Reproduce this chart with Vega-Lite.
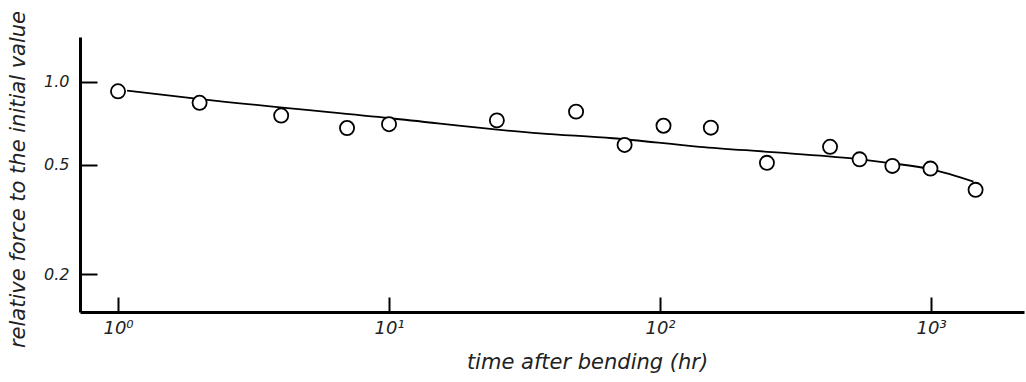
{
  "$schema": "https://vega.github.io/schema/vega-lite/v6.json",
  "width": 944,
  "height": 275,
  "autosize": {"type": "none"},
  "padding": {"left": 80, "top": 37, "right": 2, "bottom": 70},
  "background": "white",
  "config": {
    "view": {"stroke": null},
    "font": "DejaVu Sans",
    "axis": {
      "domainColor": "black",
      "domainWidth": 3,
      "tickColor": "black",
      "tickWidth": 2,
      "grid": false,
      "labelFont": "DejaVu Sans",
      "labelFontStyle": "italic",
      "labelFontWeight": 200,
      "labelColor": "#222",
      "labelFontSize": 16,
      "titleFont": "DejaVu Sans",
      "titleFontStyle": "italic",
      "titleFontWeight": 200,
      "titleColor": "#222",
      "titleFontSize": 21
    }
  },
  "datasets": {
    "points": [
      {"t": 1, "v": 0.925},
      {"t": 2, "v": 0.84},
      {"t": 4, "v": 0.755},
      {"t": 7, "v": 0.68},
      {"t": 10, "v": 0.702},
      {"t": 25, "v": 0.725},
      {"t": 49, "v": 0.78},
      {"t": 74, "v": 0.59},
      {"t": 103, "v": 0.693},
      {"t": 154, "v": 0.682},
      {"t": 248, "v": 0.508},
      {"t": 424, "v": 0.581},
      {"t": 545, "v": 0.523},
      {"t": 720, "v": 0.495},
      {"t": 995, "v": 0.484},
      {"t": 1460, "v": 0.405}
    ],
    "curve": [
      {"t": 1.08, "v": 0.93},
      {"t": 2.01, "v": 0.867},
      {"t": 10.1, "v": 0.738},
      {"t": 36, "v": 0.65},
      {"t": 67, "v": 0.624},
      {"t": 140, "v": 0.581},
      {"t": 277, "v": 0.553},
      {"t": 550, "v": 0.523},
      {"t": 718, "v": 0.506},
      {"t": 1004, "v": 0.481},
      {"t": 1434, "v": 0.434}
    ]
  },
  "layer": [
    {
      "data": {"name": "curve"},
      "mark": {"type": "line", "color": "black", "strokeWidth": 1.8, "interpolate": "monotone"},
      "encoding": {
        "x": {
          "field": "t", "type": "quantitative",
          "scale": {"type": "log", "domain": [0.724, 2203], "nice": false},
          "axis": {
            "values": [1, 10, 100, 1000],
            "labelExpr": "datum.value == 1 ? '10⁰' : datum.value == 10 ? '10¹' : datum.value == 100 ? '10²' : '10³'",
            "labelFontSize": 18,
            "tickSize": -15,
            "labelPadding": 22,
            "title": "time  after bending (hr)",
            "titleX": 507,
            "titleY": 50,
            "titleBaseline": "middle",
            "titleAnchor": "middle"
          }
        },
        "y": {
          "field": "v", "type": "quantitative",
          "scale": {"type": "log", "domain": [0.1455, 1.458], "nice": false},
          "axis": {
            "values": [0.2, 0.5, 1.0],
            "format": ".1f",
            "tickSize": -17,
            "labelPadding": 28,
            "title": "relative force to the initial value",
            "titleX": -62,
            "titleY": 142,
            "titleBaseline": "middle",
            "titleAnchor": "middle"
          }
        }
      }
    },
    {
      "data": {"name": "points"},
      "mark": {"type": "point", "shape": "circle", "filled": true, "fill": "white", "stroke": "black", "strokeWidth": 1.8, "size": 200, "opacity": 1},
      "encoding": {
        "x": {"field": "t", "type": "quantitative"},
        "y": {"field": "v", "type": "quantitative"}
      }
    }
  ]
}
